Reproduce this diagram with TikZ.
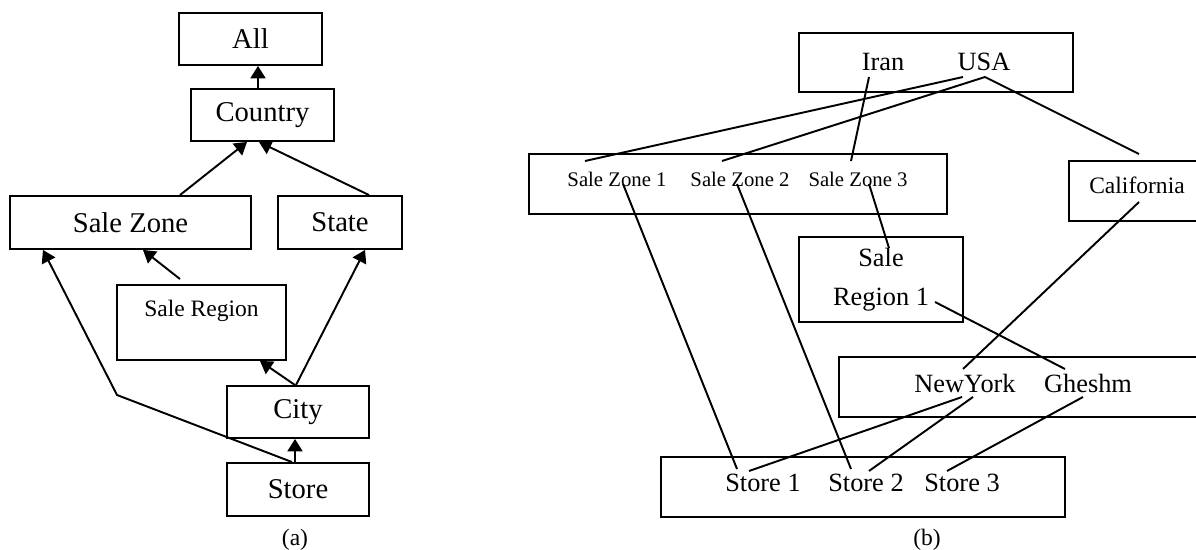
\documentclass[tikz,border=0pt]{standalone}
\usepackage{fontspec}
\setmainfont{Liberation Serif}
\usetikzlibrary{arrows.meta}

\begin{document}
\begin{tikzpicture}[x=0.02cm, y=-0.02cm, >={Triangle[length=7pt,width=8.5pt]},
    box/.style={draw, line width=1.1pt, inner sep=0pt},
    link/.style={line width=1.1pt},
    big/.style={font=\fontsize{16.3}{19}\selectfont},
    mid/.style={font=\fontsize{15}{20}\selectfont},
    small/.style={font=\fontsize{13.4}{16}\selectfont},
    tiny/.style={font=\fontsize{11.8}{14}\selectfont}]
    \clip (0,0) rectangle (1196,550);

    % (a) hierarchy
    \node[box, big, minimum width=2.86cm, minimum height=1.04cm] (all) at (250.5,39) {All};
    \node[box, big, minimum width=2.86cm, minimum height=1.04cm] (country) at (262.5,115) {Country};
    \node[box, big, minimum width=4.82cm, minimum height=1.06cm] (zone) at (130.5,222.5) {Sale Zone};
    \node[box, big, minimum width=2.48cm, minimum height=1.06cm] (state) at (340,222.5) {State};
    \node[box, minimum width=3.38cm, minimum height=1.5cm] (region) at (201.5,322.5) {};
    \node[small] (regiontxt) at (201.5,311) {Sale Region};
    \node[box, big, minimum width=2.84cm, minimum height=1.04cm] (city) at (298,412) {City};
    \node[box, big, minimum width=2.84cm, minimum height=1.06cm] (store) at (298,489.5) {Store};
    \coordinate (bend) at (117,395);

    \draw[link, ->] ([shift={(-4.5,0)}]country.north) -- ([shift={(7.5,0)}]all.south);
    \draw[link, ->] ([shift={(49.5,0)}]zone.north) -- ([shift={(-15.5,0)}]country.south);
    \draw[link, ->] ([shift={(29,0)}]state.north) -- ([shift={(-3.5,0)}]country.south);
    \draw[link, ->] ([shift={(-21.5,-5)}]region.north) -- ([shift={(12.5,0)}]zone.south);
    \draw[link, ->] ([shift={(-3,0)}]city.north) -- ([shift={(58.5,0)}]region.south);
    \draw[link, ->] ([shift={(-2,0)}]city.north) -- ([shift={(25,0)}]state.south);
    \draw[link, ->] ([shift={(-3,0)}]store.north) -- ([shift={(-3,0)}]city.south);
    \draw[link, ->] ([shift={(-6,0)}]store.north) -- (bend) -- ([shift={(-87.5,0)}]zone.south);

    \node[small] (capa) at (295,540) {(a)};

    % (b) instances
    \node[box, minimum width=5.48cm, minimum height=1.18cm] (topbox) at (936,62.5) {};
    \node[box, minimum width=8.36cm, minimum height=1.2cm] (zonebox) at (738,184) {};
    \node[box, minimum width=2.62cm, minimum height=1.2cm] (calbox) at (1134.5,191) {};
    \node[box, minimum width=3.28cm, minimum height=1.7cm] (regbox) at (881,279.5) {};
    \node[box, minimum width=7.22cm, minimum height=1.2cm] (citybox) at (1019.5,387) {};
    \node[box, minimum width=8.08cm, minimum height=1.2cm] (storebox) at (863,487) {};

    \node[mid] (iran) at (883,62) {Iran};
    \node[mid] (usa) at (984,62) {USA};
    \node[tiny] (sz1) at (617,179) {Sale Zone 1};
    \node[tiny] (sz2) at (740,179) {Sale Zone 2};
    \node[tiny] (sz3) at (858,179) {Sale Zone 3};
    \node[small] (cal) at (1137,185) {California};
    \node[mid, align=center] (reg) at (881,280) {Sale\\[2pt]Region 1};
    \node[mid] (ny) at (965,383) {NewYork};
    \node[mid] (gh) at (1088,383) {Gheshm};
    \node[mid] (st1) at (763,483) {Store 1};
    \node[mid] (st2) at (866,483) {Store 2};
    \node[mid] (st3) at (962,483) {Store 3};

    \draw[link] ([shift={(-21,15)}]usa.center) -- ([shift={(-32,-18)}]sz1.center);
    \draw[link] ([shift={(1,15)}]usa.center) -- ([shift={(-18,-18)}]sz2.center);
    \draw[link] ([shift={(-14,15)}]iran.center) -- ([shift={(-7,-18)}]sz3.center);
    \draw[link] ([shift={(1,15)}]usa.center) -- ([shift={(2,-31)}]cal.center);
    \draw[link] ([shift={(6,5)}]sz1.center) -- ([shift={(-26,-14)}]st1.center);
    \draw[link] ([shift={(-3,5)}]sz2.center) -- ([shift={(-15,-14)}]st2.center);
    \draw[link] ([shift={(11,5)}]sz3.center) -- ([shift={(8,-32)}]reg.center);
    \draw[link] ([shift={(54,22)}]reg.center) -- ([shift={(-23,-14)}]gh.center);
    \draw[link] ([shift={(2,17)}]cal.center) -- ([shift={(-2,-14)}]ny.center);
    \draw[link] ([shift={(-3,14)}]ny.center) -- ([shift={(-14,-12)}]st1.center);
    \draw[link] ([shift={(8,14)}]ny.center) -- ([shift={(3,-12)}]st2.center);
    \draw[link] ([shift={(-5,14)}]gh.center) -- ([shift={(-15,-12)}]st3.center);

    \node[small] (capb) at (927,540) {(b)};
\end{tikzpicture}
\end{document}
